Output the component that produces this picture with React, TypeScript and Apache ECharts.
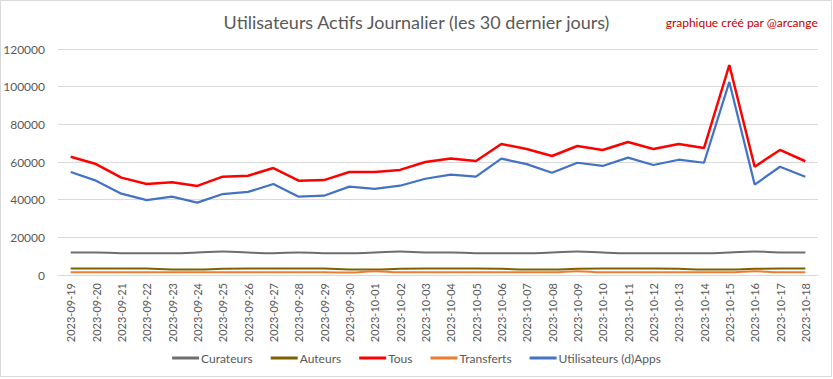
import React, { useEffect, useRef } from "react";
import * as echarts from "echarts";

const categories = [
  "2023-09-19", "2023-09-20", "2023-09-21", "2023-09-22", "2023-09-23", "2023-09-24",
  "2023-09-25", "2023-09-26", "2023-09-27", "2023-09-28", "2023-09-29", "2023-09-30",
  "2023-10-01", "2023-10-02", "2023-10-03", "2023-10-04", "2023-10-05", "2023-10-06",
  "2023-10-07", "2023-10-08", "2023-10-09", "2023-10-10", "2023-10-11", "2023-10-12",
  "2023-10-13", "2023-10-14", "2023-10-15", "2023-10-16", "2023-10-17", "2023-10-18",
];

const curateurs = [
  12000, 12000, 11500, 11500, 11500, 12000, 12500, 12000, 11500, 12000, 11500, 11500,
  12000, 12500, 12000, 12000, 11500, 11500, 11500, 12000, 12500, 12000, 11500, 11500,
  11500, 11500, 12000, 12500, 12000, 12000,
];

const auteurs = [
  3500, 3500, 3500, 3400, 2900, 2900, 3300, 3400, 3400, 3400, 3400, 2900,
  2900, 3300, 3400, 3400, 3400, 3300, 2900, 2900, 3300, 3400, 3400, 3400,
  3300, 2900, 2900, 3300, 3400, 3400,
];

const tous = [
  62800, 58900, 51700, 48300, 49200, 47300, 52200, 52700, 56800, 50100, 50400, 54700,
  54700, 55800, 60000, 61800, 60500, 69600, 66900, 63200, 68500, 66400, 70600, 66900,
  69600, 67400, 111500, 57500, 66400, 60400,
];

const transferts = [
  1400, 1400, 1400, 1400, 1400, 1400, 1400, 1400, 1400, 1400, 1400, 1300,
  2000, 1400, 1400, 1400, 1400, 1400, 1400, 1400, 2000, 1400, 1400, 1400,
  1400, 1400, 1400, 2000, 1400, 1400,
];

const utilisateurs = [
  54700, 50100, 43200, 39800, 41600, 38400, 43000, 44100, 48300, 41600, 42100, 46900,
  45700, 47400, 51100, 53300, 52200, 61800, 58900, 54300, 59600, 57900, 62300, 58400,
  61200, 59600, 102500, 48000, 57500, 52200,
];

const FONT = "Lato, 'Open Sans', sans-serif";
const TXT = "#595959";

export default function App() {
  const ref = useRef<HTMLDivElement>(null);
  useEffect(() => {
    document.body.style.margin = "0";
    const chart = echarts.init(ref.current!, null, { renderer: "svg" });
    const mk = (name: string, data: number[], color: string, width: number, smooth: boolean) => ({
      name,
      type: "line",
      data,
      smooth,
      symbol: "none",
      lineStyle: { color, width },
      itemStyle: { color },
    });
    chart.setOption({
      animation: false,
      backgroundColor: "#ffffff",
      textStyle: { fontFamily: FONT },
      title: [
        {
          text: "Utilisateurs Actifs Journalier (les 30 dernier jours)",
          left: "center",
          top: 8,
          textStyle: { fontFamily: FONT, fontSize: 18, fontWeight: "normal", color: TXT },
        },
        {
          text: "graphique créé par @arcange",
          right: 10,
          top: 11,
          textStyle: { fontFamily: FONT, fontSize: 12, fontWeight: "normal", color: "#C00000" },
        },
      ],
      graphic: [
        {
          type: "rect",
          shape: { x: 0.5, y: 0.5, width: 831, height: 376 },
          style: { fill: "none", stroke: "#D9D9D9", lineWidth: 1 },
          silent: true,
        },
      ],
      legend: {
        bottom: 10,
        left: "center",
        itemWidth: 27,
        itemHeight: 3,
        itemGap: 18,
        icon: "rect",
        textStyle: { fontFamily: FONT, fontSize: 12, color: TXT, padding: [0, 0, 0, -3] },
        data: ["Curateurs", "Auteurs", "Tous", "Transferts", "Utilisateurs (d)Apps"],
      },
      grid: { left: 58, right: 15, top: 49, bottom: 104, containLabel: false },
      xAxis: {
        type: "category",
        data: categories,
        boundaryGap: true,
        axisLine: { lineStyle: { color: "#D9D9D9" } },
        axisTick: { show: false },
        axisLabel: {
          rotate: 90,
          interval: 0,
          margin: 8,
          fontFamily: FONT,
          fontSize: 11,
          color: TXT,
        },
      },
      yAxis: {
        type: "value",
        min: 0,
        max: 120000,
        interval: 20000,
        axisLine: { show: false },
        axisTick: { show: false },
        splitLine: { lineStyle: { color: "#D9D9D9" } },
        axisLabel: {
          margin: 13,
          fontFamily: FONT,
          fontSize: 12,
          color: TXT,
          formatter: (v: number) => String(v),
        },
      },
      series: [
        mk("Curateurs", curateurs, "#6E6E6E", 2, true),
        mk("Auteurs", auteurs, "#7F6000", 2, true),
        mk("Tous", tous, "#FF0000", 2.5, false),
        mk("Transferts", transferts, "#ED7D31", 2, true),
        mk("Utilisateurs (d)Apps", utilisateurs, "#4472C4", 2.25, false),
      ],
    });
    return () => chart.dispose();
  }, []);
  return <div ref={ref} style={{ width: 833, height: 379 }} />;
}
